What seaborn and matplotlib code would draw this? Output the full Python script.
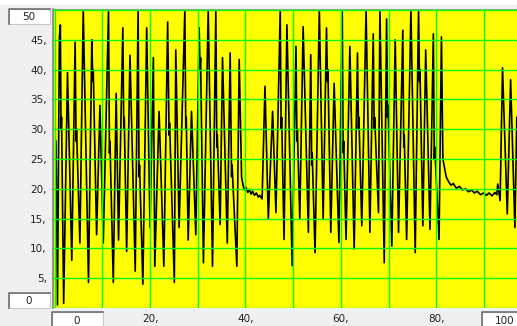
import matplotlib
matplotlib.use("Agg")
import matplotlib.pyplot as plt
import seaborn as sns
from matplotlib.patches import Rectangle
from matplotlib.lines import Line2D

# sinyal tepe / dip noktaları
x_vals = [0.3, 0.6, 1.0, 1.2, 1.35, 1.45, 1.9, 2.7, 3.6, 4.3, 4.5, 4.6, 5.3, 6.0, 7.1,
          7.8, 8.0, 8.1, 8.8, 9.5, 10.2, 11.3, 11.5, 11.6, 12.3, 12.9, 13.4, 14.3, 14.5,
          14.6, 15.1, 15.8, 16.9, 17.5, 17.7, 17.8, 18.5, 19.3, 20.0, 20.7, 21.0, 21.9,
          22.9, 23.7, 24.0, 24.1, 25.1, 25.4, 26.1, 27.3, 27.5, 27.6, 28.0, 28.7, 29.6,
          30.3, 30.5, 30.6, 31.2, 32.2, 33.1, 33.8, 34.0, 34.1, 34.7, 35.2, 36.2, 36.8,
          37.1, 37.2, 38.2, 38.7, 39.2, 39.5, 39.8, 40.1, 40.5, 40.8, 41.2, 41.5, 41.9,
          42.3, 42.7, 43.0, 43.5,
          44.1, 44.8, 45.7, 46.4, 47.3, 47.5, 47.6, 48.1, 48.7, 49.8, 50.6, 50.8, 50.9,
          51.4, 52.1, 53.2, 53.7, 53.9, 54.0, 54.6, 55.5, 56.3, 57.0, 57.2, 57.3, 57.9,
          58.6, 59.6, 60.3, 60.5, 60.6, 61.1, 61.9, 62.8, 63.5, 63.7, 63.8, 64.4, 65.3,
          66.1, 66.8, 67.0, 67.1, 67.9, 68.2, 69.1, 69.6, 69.8, 69.9, 70.7, 71.4, 72.1,
          73.0, 73.2, 73.3, 73.8, 74.7, 75.6, 76.3, 76.5, 76.6, 77.2, 77.8, 78.7, 79.4,
          79.6, 79.7, 80.6, 81.1, 81.4, 82.1, 82.6, 83.1, 83.6,
          84.2, 84.9, 85.5, 86.1, 86.8, 87.4, 88.0, 88.6, 89.3, 89.9, 90.5, 91.1, 91.7,
          92.3, 92.7, 92.9, 93.4, 93.9, 94.9, 95.6, 96.5, 96.9, 97.5]
y_vals = [28, 0.5, 45.5, 47.5, 30, 32, 0.8, 39.5, 8, 44.6, 28, 30, 10.9, 50, 4.3,
          45, 38, 40, 12.3, 34, 10.9, 50, 26, 28, 4.3, 36, 11.4, 47, 30,
          32, 9.5, 42.4, 6.2, 50, 22, 24, 4, 47, 13.5, 42, 7, 33,
          7, 48, 29, 31, 4.3, 43.3, 13.5, 50, 30, 32, 11.4, 33, 12.3,
          47, 40, 42, 7.6, 50, 7, 50, 27, 29, 14, 42, 10.9, 42.8,
          22, 24, 7, 41.7, 22, 20.6, 19.8, 20.3, 19.4, 19.9, 19.1, 19.6, 18.9,
          19.3, 18.6, 18.9, 18.3,
          37.2, 14.9, 33, 16, 50, 30, 32, 11.5, 47.5, 7.1, 43.9, 28, 30,
          14.9, 47.2, 12.7, 42.5, 24, 26, 9.3, 50, 14.9, 47, 38, 40, 12.7,
          37.7, 11, 50, 26, 28, 11.5, 43.9, 9.9, 42.8, 30, 32, 13.8, 50,
          12.7, 46, 30, 32, 16, 50, 7.6, 48.5, 32, 34, 10.4, 45, 12.7,
          46.6, 27, 29, 11.5, 50, 9.3, 50, 38, 40, 13.8, 43.3, 13.2, 46,
          25, 27, 11.5, 45.5, 25, 22, 21.2, 20.6, 20.9,
          20.1, 20.4, 19.8, 20.0, 19.5, 19.8, 19.3, 19.6, 19.0, 19.3, 18.9, 19.3, 18.8,
          19.4, 19.0, 20.8, 18.0, 40.3, 15.8, 38.3, 13.5, 32, 25]

y_ticks = [0, 5, 10, 15, 20, 25, 30, 35, 40, 45, 50]
y_labels = ["", "5,", "10,", "15,", "20,", "25,", "30,", "35,", "40,", "45,", ""]
x_ticks = [0, 10, 20, 30, 40, 50, 60, 70, 80, 90]
x_labels = ["", "", "20,", "", "40,", "", "60,", "", "80,", ""]

W, H = 517, 326
fig = plt.figure(figsize=(W / 100, H / 100), dpi=100, facecolor="#f0f0f0")
ax = fig.add_axes([53 / W, 18 / H, 464 / W, 299 / H])
ax.set_facecolor("#ffff00")

sns.lineplot(x=x_vals, y=y_vals, ax=ax, color="black", lw=1.2, sort=False, estimator=None)

ax.set_xlim(-0.34, 96.94)
ax.set_ylim(0.17, 50.17)
ax.set_yticks(y_ticks)
ax.set_yticklabels(y_labels)
ax.set_xticks(x_ticks)
ax.set_xticklabels(x_labels)
ax.tick_params(length=0, labelsize=7.5, labelcolor="#202020", pad=4.5)
ax.grid(True, color="#00ff00", lw=1.0)
ax.set_axisbelow(False)
for s in ["right", "bottom"]:
    ax.spines[s].set_visible(False)
ax.spines["top"].set_color("#a0a0a0")
ax.spines["left"].set_color("#808080")
ax.spines["left"].set_linewidth(1.2)

# üstteki beyaz şerit
fig.add_artist(Rectangle((0, 1 - 5 / H), 1, 5 / H, transform=fig.transFigure,
                         facecolor="white", edgecolor="none"))


def kutu(x0, y0, w, h, text, tx):
    fig.add_artist(Rectangle((x0 / W, 1 - (y0 + h) / H), w / W, h / H, transform=fig.transFigure,
                             facecolor="white", edgecolor="#c8c8c8", lw=0.8))
    fig.add_artist(Line2D([x0 / W, x0 / W, (x0 + w) / W], [1 - (y0 + h) / H, 1 - y0 / H, 1 - y0 / H],
                          transform=fig.transFigure, color="#707070", lw=1.2))
    fig.text(tx / W, 1 - (y0 + h / 2 + 0.5) / H, text, ha="center", va="center",
             fontsize=7.5, color="#202020")


kutu(8.5, 8.5, 41.5, 15, "50", 29)
kutu(8.5, 292.5, 41.5, 15.5, "0", 29)
kutu(52, 312, 51, 16, "0", 77)
kutu(482, 312, 36, 16, "100", 505)

fig.savefig("out.png", dpi=100, facecolor=fig.get_facecolor())
